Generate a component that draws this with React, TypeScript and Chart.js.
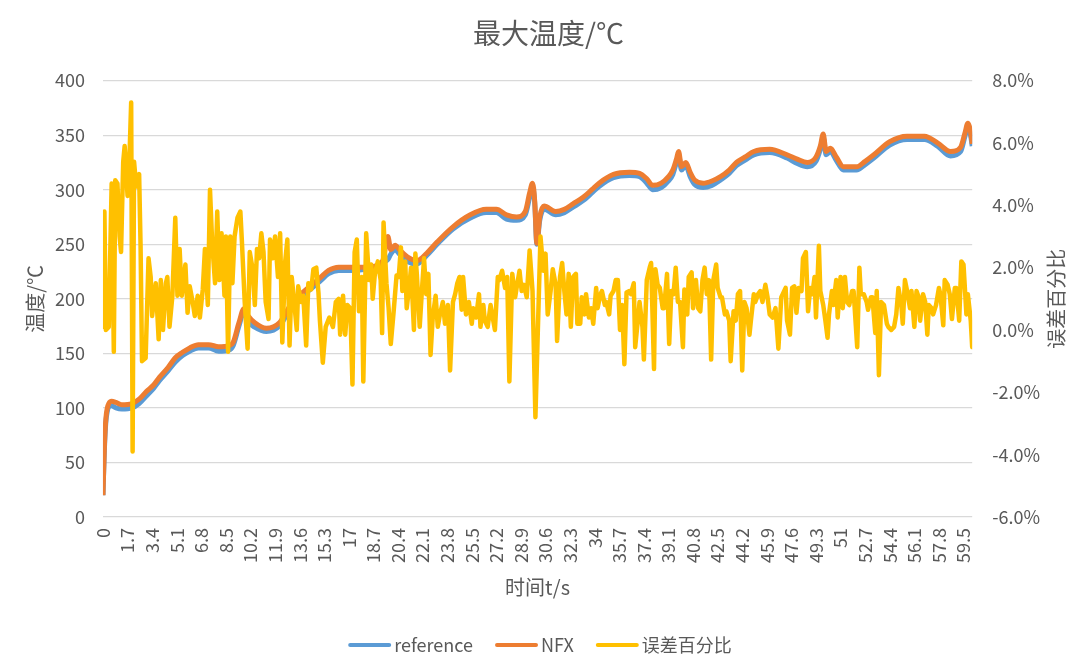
import { useEffect, useRef } from "react"
import { Chart, registerables } from "chart.js"

Chart.register(...registerables)

const FONT = '"Noto Sans CJK SC", "Open Sans", sans-serif'
const TEXT = "#595959"
const GRID = "#D9D9D9"

// x tick labels (time, s)
const xTickLabels = [
  0, 1.7, 3.4, 5.1, 6.8, 8.5, 10.2, 11.9, 13.6, 15.3, 17, 18.7, 20.4, 22.1, 23.8, 25.5, 27.2, 28.9,
  30.6, 32.3, 34, 35.7, 37.4, 39.1, 40.8, 42.5, 44.2, 45.9, 47.6, 49.3, 51, 52.7, 54.4, 56.1, 57.8, 59.5,
]

// temperature curves
const tempTimes = [
  0, 0.1, 0.2, 0.3, 0.4, 0.6, 0.9, 1.3, 2.0, 2.5,
  3.0, 3.5, 3.9, 4.5, 5.0, 5.5, 6.0, 6.6, 7.3, 8.0,
  8.7, 9.0, 9.4, 9.75, 10.0, 10.5, 11.3, 12.2, 13.1, 14.0,
  15.0, 15.6, 16.3, 17.3, 18.2, 18.8, 19.35, 19.7, 19.9, 20.2,
  20.5, 21.1, 21.7, 22.4, 23.1, 24.2, 25.4, 26.5, 27.2, 27.9,
  28.6, 29.2, 29.5, 29.7, 29.85, 30.0, 30.2, 30.5, 31.3, 31.9,
  32.5, 33.2, 33.8, 34.3, 35.3, 36.4, 37.1, 37.6, 38.0, 38.6,
  39.1, 39.4, 39.65, 39.8, 40.0, 40.3, 40.6, 40.9, 41.5, 42.1,
  42.7, 43.3, 43.8, 44.4, 45.0, 46.1, 47.3, 48.0, 48.7, 49.3,
  49.6, 49.8, 50.0, 50.3, 50.7, 51.2, 52.1, 52.7, 53.3, 54.4,
  55.6, 56.8, 57.7, 58.6, 59.3, 59.6, 59.8, 60.0, 60.1,
]

const referenceTemp = [
  20, 62, 87, 97, 101, 102, 100, 99, 100, 104,
  111, 118, 125, 134, 142, 148, 152, 155, 155, 152,
  153, 157, 175, 188, 180, 174, 170, 175, 194, 205,
  216, 223, 226, 226, 227, 229, 233, 236, 241, 245,
  241, 234, 232, 240, 250, 264, 274, 279, 279, 273,
  272, 277, 293, 303, 288, 250, 272, 282, 277, 279,
  284, 290, 297, 303, 311, 313, 312, 306, 300, 302,
  308, 314, 325, 332, 318, 322, 312, 305, 302, 304,
  309, 315, 322, 327, 332, 334, 329, 324, 321, 326,
  337, 348, 332, 335, 327, 318, 318, 323, 329, 341,
  346, 346, 340, 331, 335, 349, 358, 349, 340,
]

const nfxTemp = [
  20, 65, 90, 100, 104, 106, 105, 103, 104, 108,
  115, 121, 128, 137, 146, 151, 155, 158, 158, 156,
  157, 160, 178, 191, 185, 178, 173, 178, 197, 208,
  219, 226, 229, 229, 229, 230, 235, 257, 245, 249,
  245, 238, 235, 242, 252, 266, 277, 282, 282, 277,
  275, 280, 297, 306, 290, 251, 275, 285, 280, 282,
  287, 293, 300, 306, 314, 316, 315, 310, 304, 306,
  312, 318, 328, 335, 321, 325, 316, 309, 306, 308,
  312, 318, 325, 330, 335, 337, 332, 328, 325, 330,
  340, 351, 335, 338, 330, 321, 321, 326, 332, 344,
  349, 349, 343, 335, 339, 352, 361, 352, 342,
]

// error percentage (%)
const errorTimes = [
  0, 0.1, 0.2, 0.4, 0.6, 0.75, 0.85, 1.0, 1.15, 1.25,
  1.4, 1.5, 1.7, 1.85, 1.95, 2.05, 2.15, 2.3, 2.5, 2.6,
  2.7, 2.95, 3.15, 3.3, 3.4, 3.65, 3.85, 4.0, 4.15, 4.35,
  4.45, 4.6, 4.8, 5.0, 5.15, 5.3, 5.45, 5.7, 5.85, 6.0,
  6.2, 6.35, 6.55, 6.7, 6.9, 7.05, 7.25, 7.4, 7.55, 7.75,
  7.9, 8.05, 8.2, 8.4, 8.5, 8.65, 8.8, 8.95, 9.1, 9.3,
  9.5, 9.6, 9.8, 10.0, 10.15, 10.35, 10.5, 10.65, 10.8, 10.95,
  11.1, 11.25, 11.45, 11.55, 11.75, 11.9, 12.1, 12.25, 12.4, 12.6,
  12.75, 12.9, 13.05, 13.2, 13.4, 13.5, 13.7, 13.85, 14.05, 14.2,
  14.4, 14.55, 14.75, 14.9, 15.0, 15.2, 15.4, 15.65, 15.9, 16.1,
  16.3, 16.4, 16.6, 16.75, 16.9, 17.1, 17.25, 17.4, 17.55, 17.7,
  17.9, 18.0, 18.2, 18.4, 18.55, 18.65, 18.8, 19.0, 19.2, 19.3,
  19.4, 19.6, 19.75, 19.9, 20.1, 20.3, 20.45, 20.6, 20.7, 20.9,
  21.0, 21.2, 21.3, 21.5, 21.6, 21.7, 21.9, 22.05, 22.2, 22.35,
  22.5, 22.65, 22.8, 23.0, 23.15, 23.3, 23.5, 23.65, 23.85, 24.0,
  24.2, 24.35, 24.5, 24.65, 24.8, 24.9, 25.1, 25.3, 25.5, 25.6,
  25.8, 26.0, 26.1, 26.3, 26.4, 26.6, 26.8, 26.95, 27.1, 27.3,
  27.4, 27.6, 27.8, 27.95, 28.1, 28.3, 28.5, 28.6, 28.8, 28.95,
  29.1, 29.3, 29.5, 29.7, 29.9, 30.25, 30.45, 30.6, 30.75, 30.95,
  31.1, 31.3, 31.4, 31.6, 31.75, 31.9, 32.05, 32.2, 32.35, 32.5,
  32.7, 32.8, 33.0, 33.1, 33.3, 33.4, 33.6, 33.75, 33.9, 34.1,
  34.2, 34.4, 34.5, 34.7, 34.8, 35.0, 35.1, 35.3, 35.45, 35.6,
  35.75, 35.9, 36.05, 36.2, 36.4, 36.5, 36.7, 36.8, 37.0, 37.1,
  37.3, 37.4, 37.6, 37.8, 37.9, 38.1, 38.2, 38.35, 38.5, 38.7,
  38.8, 39.0, 39.15, 39.3, 39.45, 39.6, 39.75, 39.9, 40.1, 40.2,
  40.4, 40.5, 40.7, 40.8, 41.0, 41.15, 41.3, 41.45, 41.6, 41.75,
  41.9, 42.05, 42.2, 42.4, 42.5, 42.7, 42.8, 43.0, 43.1, 43.3,
  43.4, 43.6, 43.75, 43.9, 44.05, 44.2, 44.35, 44.5, 44.7, 44.8,
  45.0, 45.1, 45.3, 45.45, 45.6, 45.8, 45.95, 46.1, 46.3, 46.5,
  46.7, 46.9, 47.0, 47.2, 47.3, 47.5, 47.65, 47.8, 47.95, 48.1,
  48.3, 48.4, 48.6, 48.75, 48.9, 49.05, 49.2, 49.3, 49.5, 49.6,
  49.8, 49.95, 50.1, 50.2, 50.4, 50.5, 50.7, 50.8, 51.0, 51.15,
  51.3, 51.45, 51.6, 51.8, 51.9, 52.15, 52.3, 52.4, 52.6, 52.8,
  52.9, 53.1, 53.2, 53.4, 53.5, 53.65, 53.8, 54.0, 54.2, 54.3,
  54.5, 54.7, 54.85, 55.0, 55.2, 55.3, 55.45, 55.6, 55.8, 55.9,
  56.1, 56.25, 56.4, 56.5, 56.7, 56.85, 57.0, 57.1, 57.3, 57.4,
  57.6, 57.8, 57.9, 58.1, 58.2, 58.4, 58.55, 58.7, 58.9, 59.0,
  59.2, 59.35, 59.5, 59.7, 59.8, 60.0, 60.1,
]

const errorPct = [
  0.1, 3.8, 0.0, 0.1, 4.7, -0.7, 4.8, 4.7, 3.0, 2.5,
  5.4, 5.9, 4.3, 5.8, 7.3, -3.9, 5.4, 4.6, 5.0, 2.7,
  -1.0, -0.9, 2.3, 1.7, 0.45, 1.5, -0.3, 1.6, 0.0, 1.5,
  1.7, 0.1, 1.1, 3.6, 1.1, 2.6, 1.1, 2.1, 0.55, 1.4,
  0.9, 0.45, 1.1, 0.4, 1.3, 2.6, 0.8, 4.5, 2.8, 1.5,
  3.8, 1.6, 3.1, 1.1, 3.0, -0.7, 3.0, 1.5, 3.0, 3.6,
  3.8, 2.9, 0.9, -0.6, 2.5, 1.95, 0.8, 2.6, 2.3, 3.1,
  2.5, 0.9, 0.35, 2.9, 2.3, 3.0, 1.7, 3.1, -0.4, 2.2,
  2.9, -0.5, 1.7, 1.0, 0.0, 1.4, 0.9, 1.1, -0.5, 1.5,
  1.3, 1.95, 2.0, 1.2, 0.3, -1.05, 0.1, 0.4, 0.1, 0.9,
  1.0, -0.15, 1.1, -0.15, 0.8, 0.7, -1.75, 2.5, 2.9, 0.6,
  1.7, -1.65, 3.1, 1.6, 2.1, 1.0, 1.8, 2.2, 1.6, -0.1,
  3.45, 1.5, 0.7, -0.45, 0.6, 1.75, 1.7, 2.65, 1.25, 2.2,
  0.7, 1.5, 2.0, 0.0, 2.45, 1.8, 0.1, 1.25, 2.3, 1.15,
  1.8, -0.8, 0.4, 1.1, 0.1, 0.5, 0.9, 0.2, 0.8, -1.3,
  0.9, 1.15, 1.5, 1.7, 0.65, 1.7, 0.5, 0.9, 0.2, 0.7,
  0.4, 1.15, 0.1, 0.8, 0.3, 0.1, 0.8, 0.4, 0.0, 1.7,
  1.6, 1.9, 1.35, 1.7, -1.65, 1.8, 1.05, 1.35, 1.9, 1.25,
  1.45, 1.05, 2.55, 1.25, -2.8, 3.0, 1.9, 2.45, 0.5, 1.25,
  1.95, 1.45, -0.35, 1.7, 2.15, 1.25, 0.5, 1.8, 0.1, 1.7,
  1.8, 0.2, 0.2, 1.05, 0.5, 1.15, 0.4, 0.7, 0.2, 1.35,
  0.7, 1.15, 1.25, 0.8, 0.9, 0.5, 1.1, 1.25, 1.6, 1.6,
  0.0, 0.8, -1.1, 1.2, 1.25, 1.15, 1.5, -0.55, 0.4, 0.9,
  0.1, -0.95, 1.6, 2.0, 2.15, -1.25, 1.95, 1.45, 1.35, 0.7,
  0.7, 1.8, -0.45, 1.25, 1.15, 2.0, 0.9, 0.9, -0.55, 1.3,
  0.5, 1.7, 1.85, 0.7, 1.6, 0.7, 0.6, 1.6, 2.0, 1.15,
  1.6, -0.95, 1.6, 2.1, 1.35, 1.05, 1.05, 0.5, 0.6, 0.3,
  -1.0, 0.6, 0.3, 1.15, 1.25, -1.3, 0.9, 0.7, -0.15, 0.3,
  1.15, 0.9, 1.15, 1.25, 0.9, 1.45, 1.05, 0.5, 0.4, 0.7,
  -0.6, 1.05, 1.15, 1.35, 0.3, -0.15, 1.35, 1.4, 0.55, 1.35,
  1.25, 2.3, 2.5, 0.6, 1.35, 1.15, 1.7, 0.4, 2.7, 1.25,
  0.8, 0.3, -0.25, 0.5, 1.25, 0.8, 1.6, 0.4, 1.7, 0.7,
  1.7, 0.9, 0.8, 1.25, 1.25, -0.55, 2.0, 1.15, 1.15, 0.9,
  0.65, 1.05, 1.05, -0.1, 1.25, -1.45, 0.9, 0.8, 0.2, 0.1,
  0.0, 0.1, 0.5, 1.35, 0.8, 0.2, 1.6, 1.25, 0.7, 1.25,
  0.1, 1.25, 1.05, 0.3, 1.15, 0.9, -0.15, 0.8, 0.7, 0.5,
  0.8, 1.35, 1.15, 0.15, 1.6, 1.45, 1.15, 0.35, 1.35, 1.35,
  0.3, 2.2, 2.1, 0.5, 1.15, 0.3, -0.55,
]

const seriesColors = ["#5B9BD5", "#ED7D31", "#FFC000"]

// both y-axis titles read bottom-to-top, as in the office chart
const sideTitlesPlugin = {
  id: "sideTitles",
  afterDraw(chart: Chart) {
    const { ctx, chartArea } = chart
    const midY = (chartArea.top + chartArea.bottom) / 2
    const draw = (text: string, x: number) => {
      ctx.save()
      ctx.translate(x, midY)
      ctx.rotate(-Math.PI / 2)
      ctx.font = `20px ${FONT}`
      ctx.fillStyle = TEXT
      ctx.textAlign = "center"
      ctx.textBaseline = "middle"
      ctx.fillText(text, 0, 0)
      ctx.restore()
    }
    draw("温度/℃", 35)
    draw("误差百分比", chart.width - 24)
  },
}

// legend drawn as line samples
const lineLegendPlugin = {
  id: "lineLegend",
  afterDraw(chart: Chart) {
    const { ctx } = chart
    const lineW = 43
    const textGap = 3
    const itemGap = 22
    ctx.save()
    ctx.font = `18px ${FONT}`
    const items = chart.data.datasets.map((d) => ({
      label: String(d.label),
      color: String(d.borderColor),
    }))
    const widths = items.map((it) => lineW + textGap + ctx.measureText(it.label).width)
    const total = widths.reduce((a, b) => a + b, 0) + itemGap * (items.length - 1)
    let x = chart.width / 2 - total / 2
    const y = chart.height - 20
    items.forEach((it, i) => {
      ctx.strokeStyle = it.color
      ctx.lineWidth = 4
      ctx.lineCap = "round"
      ctx.beginPath()
      ctx.moveTo(x + 2, y)
      ctx.lineTo(x + lineW - 2, y)
      ctx.stroke()
      ctx.fillStyle = TEXT
      ctx.textAlign = "left"
      ctx.textBaseline = "middle"
      ctx.fillText(it.label, x + lineW + textGap, y)
      x += widths[i] + itemGap
    })
    ctx.restore()
  },
}

const TempChart = () => {
  const chartRef = useRef<HTMLCanvasElement | null>(null)
  const chartInstance = useRef<Chart | null>(null)

  useEffect(() => {
    document.body.style.margin = "0"
    if (!chartRef.current) return
    const ctx = chartRef.current.getContext("2d")
    if (!ctx) return

    if (chartInstance.current) chartInstance.current.destroy()

    chartInstance.current = new Chart(ctx, {
      type: "line",
      data: {
        datasets: [
          {
            label: "reference",
            data: tempTimes.map((t, i) => ({ x: t, y: referenceTemp[i] })),
            borderColor: seriesColors[0],
            backgroundColor: seriesColors[0],
            borderWidth: 5,
            pointRadius: 0,
            cubicInterpolationMode: "monotone",
            yAxisID: "y",
            order: 3,
          },
          {
            label: "NFX",
            data: tempTimes.map((t, i) => ({ x: t, y: nfxTemp[i] })),
            borderColor: seriesColors[1],
            backgroundColor: seriesColors[1],
            borderWidth: 5,
            pointRadius: 0,
            cubicInterpolationMode: "monotone",
            yAxisID: "y",
            order: 2,
          },
          {
            label: "误差百分比",
            data: errorTimes.map((t, i) => ({ x: t, y: errorPct[i] })),
            borderColor: seriesColors[2],
            backgroundColor: seriesColors[2],
            borderWidth: 4.5,
            borderJoinStyle: "round",
            borderCapStyle: "round",
            pointRadius: 0,
            tension: 0,
            yAxisID: "y1",
            order: 1,
          },
        ],
      },
      options: {
        animation: false,
        responsive: true,
        maintainAspectRatio: false,
        layout: { padding: { left: 37, right: 20, top: 0, bottom: 61 } },
        plugins: {
          legend: { display: false },
          tooltip: { enabled: false },
          title: {
            display: true,
            text: "最大温度/℃",
            color: TEXT,
            font: { family: FONT, size: 28, weight: "normal" },
            padding: { top: 17, bottom: 30 },
          },
        },
        scales: {
          x: {
            type: "linear",
            min: 0,
            max: 60.1,
            afterBuildTicks: (scale) => {
              scale.ticks = xTickLabels.map((v) => ({ value: v }))
            },
            grid: { display: false, drawTicks: false },
            border: { display: false },
            ticks: {
              autoSkip: false,
              maxRotation: 90,
              minRotation: 90,
              padding: 11,
              color: TEXT,
              font: { family: FONT, size: 18 },
              callback: (v) => String(v),
            },
            title: {
              display: true,
              text: "时间t/s",
              color: TEXT,
              font: { family: FONT, size: 20 },
              padding: { top: 1, bottom: 5 },
            },
          },
          y: {
            position: "left",
            min: 0,
            max: 400,
            ticks: {
              stepSize: 50,
              padding: 18,
              color: TEXT,
              font: { family: FONT, size: 18 },
            },
            grid: { color: GRID, lineWidth: 1.3, drawTicks: false },
            border: { display: false },
          },
          y1: {
            position: "right",
            min: -6,
            max: 8,
            ticks: {
              stepSize: 2,
              padding: 20,
              color: TEXT,
              font: { family: FONT, size: 18 },
              callback: (v) => Number(v).toFixed(1) + "%",
            },
            grid: { display: false, drawTicks: false },
            border: { display: false },
          },
        },
      },
      plugins: [sideTitlesPlugin, lineLegendPlugin],
    })

    return () => {
      if (chartInstance.current) {
        chartInstance.current.destroy()
        chartInstance.current = null
      }
    }
  }, [])

  return (
    <div style={{ position: "relative", width: 1080, height: 665, background: "#fff" }}>
      <canvas ref={chartRef} />
    </div>
  )
}

export default function App() {
  return <TempChart />
}
